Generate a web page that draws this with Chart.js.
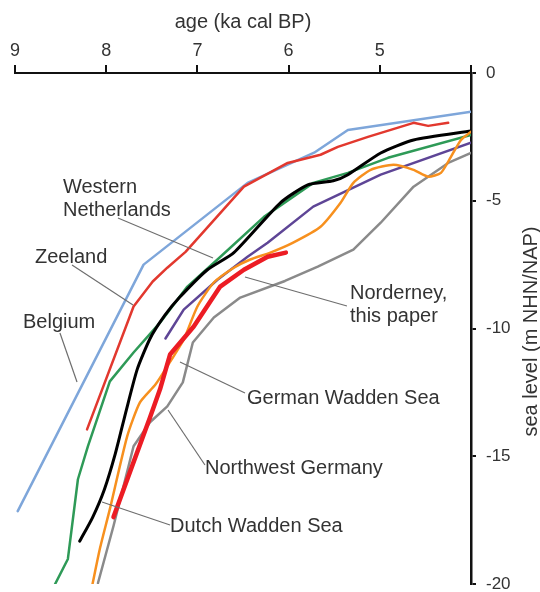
<!DOCTYPE html>
<html>
<head>
<meta charset="utf-8">
<script src="https://cdn.jsdelivr.net/npm/chart.js@4.4.1/dist/chart.umd.min.js"></script>
<style>
    html, body { margin: 0; padding: 0; background: #fff; }
    #wrap { width: 540px; height: 592px; position: relative; }
</style>
</head>
<body>
<div id="wrap"><canvas id="chart"></canvas></div>
<script>
Chart.defaults.font.family = '"Liberation Sans", Arial, sans-serif';
Chart.defaults.color = '#333';

// ages in ka cal BP, levels in m NHN/NAP
const belgiumAge = [8.97, 7.59, 6.45, 5.72, 5.35, 4.0];
const belgiumLevel = [-17.15, -7.5, -4.3, -3.12, -2.23, -1.52];

const zeelandAge = [8.21, 7.70, 7.49, 7.33, 7.13, 6.49, 6.01, 5.65, 5.46, 5.13, 4.63, 4.47, 4.25];
const zeelandLevel = [-13.95, -9.14, -8.16, -7.62, -7.0, -4.45, -3.52, -3.2, -2.89, -2.5, -1.95, -2.07, -1.95];

const westNlAge = [8.56, 8.42, 8.31, 8.20, 7.96, 7.70, 7.41, 7.11, 6.78, 6.27, 5.73, 5.35, 4.91, 4.0];
const westNlLevel = [-20.0, -19.02, -15.9, -14.6, -12.07, -10.94, -9.77, -8.36, -7.30, -5.63, -4.30, -3.91, -3.32, -2.42];

const dutchAge = [8.29, 8.15, 8.02, 7.90, 7.78, 7.66, 7.52, 7.36, 7.20, 6.89, 6.60, 6.09, 5.79, 5.51, 5.35, 4.99, 4.63, 4.0];
const dutchLevel = [-18.32, -17.40, -16.30, -14.90, -13.20, -11.60, -10.40, -9.50, -8.80, -7.70, -7.03, -5.08, -4.38, -4.22, -3.98, -3.13, -2.62, -2.27];

const purpleAge = [7.35, 7.15, 6.78, 6.45, 6.23, 5.73, 4.99, 4.0];
const purpleLevel = [-10.39, -9.26, -8.09, -7.19, -6.64, -5.23, -3.98, -2.73];

const germanAge = [8.15, 8.07, 7.96, 7.77, 7.63, 7.46, 7.33, 7.15, 7.0, 6.82, 6.60, 6.42, 6.20, 5.95, 5.65, 5.43, 5.29, 5.10, 4.85, 4.63, 4.47, 4.33, 4.22, 4.11, 4.0];
const germanLevel = [-20.0, -18.63, -17.07, -14.22, -12.89, -12.19, -11.48, -10.43, -9.14, -8.20, -7.62, -7.30, -7.03, -6.64, -6.02, -5.08, -4.30, -3.79, -3.59, -3.79, -4.06, -3.91, -3.28, -2.62, -2.30];

const nwGermanyAge = [8.09, 7.92, 7.70, 7.52, 7.33, 7.16, 7.05, 6.82, 6.53, 6.04, 5.68, 5.29, 4.99, 4.63, 4.25, 4.0];
const nwGermanyLevel = [-19.96, -17.73, -14.61, -13.67, -13.05, -12.11, -10.55, -9.57, -8.79, -8.14, -7.58, -6.91, -5.86, -4.45, -3.52, -3.13];

const norderneyAge = [7.92, 7.70, 7.52, 7.41, 7.30, 7.04, 6.75, 6.49, 6.23, 6.03];
const norderneyLevel = [-17.38, -15.23, -13.48, -12.38, -11.02, -9.92, -8.36, -7.70, -7.19, -7.03];

const ageTicks = [9, 8, 7, 6, 5];

// curve labels, anchored in data units [age, level]
const notes = [
    { lines: ['Western', 'Netherlands'], at: [8.474, -4.50] },
    { lines: ['Zeeland'], at: [8.781, -7.24] },
    { lines: ['Belgium'], at: [8.912, -9.75] },
    { lines: ['Norderney,', 'this paper'], at: [5.327, -8.61] },
    { lines: ['German Wadden Sea'], at: [6.456, -12.72] },
    { lines: ['Northwest Germany'], at: [6.917, -15.46] },
    { lines: ['Dutch Wadden Sea'], at: [7.30, -17.73] },
];
const leaders = [
    [7.871, -5.675, 6.829, -7.241],
    [8.375, -7.515, 7.706, -9.080],
    [8.507, -10.176, 8.320, -12.094],
    [6.478, -7.984, 5.360, -9.119],
    [7.191, -11.311, 6.478, -12.524],
    [7.322, -13.190, 6.917, -15.342],
    [8.046, -16.791, 7.300, -17.691],
];

function pts(ages, levels) {
    return ages.map((a, i) => ({ x: a, y: levels[i] }));
}

function curve(label, ages, levels, color, width, tension = 0) {
    return {
        label,
        data: pts(ages, levels),
        showLine: true,
        borderColor: color,
        backgroundColor: color,
        borderWidth: width,
        pointRadius: 0,
        tension,
        borderJoinStyle: 'round',
        borderCapStyle: 'round',
    };
}

const notesPlugin = {
    id: 'notes',
    afterDatasetsDraw(chart) {
        const { ctx, scales: { x, y }, chartArea } = chart;
        ctx.save();
        ctx.strokeStyle = '#6e6e6e';
        ctx.lineWidth = 1.2;
        leaders.forEach(([a1, l1, a2, l2]) => {
            ctx.beginPath();
            ctx.moveTo(x.getPixelForValue(a1), y.getPixelForValue(l1));
            ctx.lineTo(x.getPixelForValue(a2), y.getPixelForValue(l2));
            ctx.stroke();
        });
        ctx.fillStyle = '#333';
        ctx.font = '20px "Liberation Sans", Arial, sans-serif';
        ctx.textAlign = 'left';
        ctx.textBaseline = 'middle';
        notes.forEach((n) => {
            const px = x.getPixelForValue(n.at[0]);
            const py = y.getPixelForValue(n.at[1]);
            n.lines.forEach((t, i) => ctx.fillText(t, px, py + i * 23));
        });
        // y axis title, reading upwards
        ctx.font = '20px "Liberation Sans", Arial, sans-serif';
        ctx.textAlign = 'center';
        ctx.translate(chartArea.right + 60, (chartArea.top + chartArea.bottom) / 2 + 3);
        ctx.rotate(-Math.PI / 2);
        ctx.fillText('sea level (m NHN/NAP)', 0, 0);
        ctx.restore();
    },
};

new Chart(document.getElementById('chart'), {
    type: 'scatter',
    data: {
        datasets: [
            curve('Norderney, this paper', norderneyAge, norderneyLevel, '#ec1c24', 4.5),
            curve('Zeeland', zeelandAge, zeelandLevel, '#e2382e', 2.5),
            curve('Belgium', belgiumAge, belgiumLevel, '#7ea6da', 2.5),
            curve('German Wadden Sea', germanAge, germanLevel, '#f7901e', 2.5, 0.2),
            curve('Dutch Wadden Sea', dutchAge, dutchLevel, '#000000', 3, 0.2),
            curve('Western Netherlands', westNlAge, westNlLevel, '#2e9a57', 2.5),
            curve('unlabelled', purpleAge, purpleLevel, '#5e4596', 2.5),
            curve('Northwest Germany', nwGermanyAge, nwGermanyLevel, '#8a8a8a', 2.5),
        ],
    },
    options: {
        responsive: true,
        maintainAspectRatio: false,
        animation: false,
        layout: { padding: { left: 15, top: 0, right: 0, bottom: 8 } },
        plugins: {
            legend: { display: false },
            tooltip: { enabled: false },
        },
        scales: {
            x: {
                type: 'linear',
                position: 'top',
                reverse: true,
                min: 4,
                max: 9,
                afterFit: (s) => {
                    s.height = 73;
                    s.paddingLeft = 0;
                    s.paddingRight = 0;
                },
                ticks: {
                    stepSize: 1,
                    padding: 3,
                    maxRotation: 0,
                    autoSkip: false,
                    font: { size: 18 },
                    color: '#333',
                    callback: (v) => (ageTicks.includes(v) ? String(v) : ''),
                },
                grid: { drawOnChartArea: false, tickLength: 8, color: '#111', lineWidth: 2 },
                border: { display: true, color: '#111', width: 2 },
                title: {
                    display: true,
                    text: 'age (ka cal BP)',
                    color: '#333',
                    font: { size: 20 },
                    padding: { top: 10, bottom: 0 },
                },
            },
            y: {
                type: 'linear',
                position: 'right',
                min: -20,
                max: 0,
                afterFit: (s) => {
                    s.width = 69;
                    s.paddingTop = 0;
                    s.paddingBottom = 0;
                },
                ticks: { stepSize: 5, padding: 10, font: { size: 17 }, color: '#333' },
                grid: { drawOnChartArea: false, tickLength: 5, color: '#111', lineWidth: 2 },
                border: { display: true, color: '#111', width: 2.5 },
            },
        },
    },
    plugins: [notesPlugin],
});
</script>
</body>
</html>
